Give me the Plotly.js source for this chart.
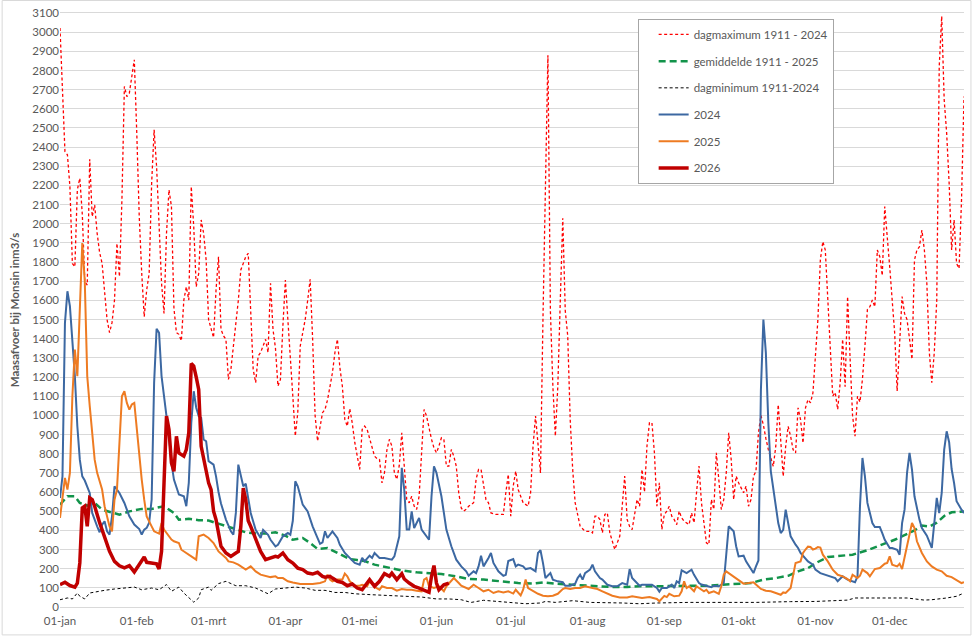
<!DOCTYPE html>
<html><head><meta charset="utf-8">
<script src="https://cdn.plot.ly/plotly-3.0.1.min.js"></script>
<style>html,body{margin:0;padding:0;background:#fff}#chart{width:976px;height:639px}</style>
</head><body><div id="chart"></div>
<script>
// x = day of year (0 = 01-jan, leap-year axis of 366 days)
const monthTickDays = [0,31,60,91,121,152,182,213,244,274,305,335];
const monthTickLabels = ['01-jan','01-feb','01-mrt','01-apr','01-mei','01-jun','01-jul','01-aug','01-sep','01-okt','01-nov','01-dec'];

const dagmaximum = [[0,3022],[1,2734],[2,2377],[3,2360],[4,2194],[5,1793],[6,1776],[7,2177],[8,2238],[9,2050],[10,1700],[11,1680],[12,2337],[13,2037],[14,2098],[15,1950],[16,1850],[17,1793],[18,1637],[19,1500],[20,1432],[21,1484],[22,1600],[23,1898],[24,1724],[25,2124],[26,2717],[27,2664],[28,2682],[29,2769],[30,2856],[31,2473],[32,2037],[33,1741],[34,1515],[35,1654],[36,1741],[37,2211],[38,2490],[39,2299],[40,1950],[41,1689],[42,1532],[43,1950],[44,2177],[45,2090],[46,1560],[47,1432],[48,1423],[49,1389],[50,1602],[51,1671],[52,1602],[53,2194],[54,1985],[55,1671],[56,1741],[57,2020],[58,1950],[59,1811],[60,1500],[61,1449],[62,1406],[63,1654],[64,1828],[65,1450],[66,1415],[67,1397],[68,1188],[69,1240],[70,1362],[71,1449],[72,1600],[73,1759],[74,1800],[75,1828],[76,1846],[77,1500],[78,1240],[79,1171],[80,1310],[81,1328],[82,1362],[83,1397],[84,1328],[85,1689],[86,1449],[87,1350],[88,1153],[89,1188],[90,1467],[91,1706],[92,1500],[93,1275],[94,1101],[95,892],[96,1014],[97,1362],[98,1432],[99,1500],[100,1600],[101,1710],[102,1400],[103,1000],[104,866],[105,944],[106,1014],[107,1031],[108,1080],[109,1150],[110,1223],[111,1328],[112,1397],[113,1250],[114,1153],[115,979],[116,944],[117,1035],[118,960],[119,860],[120,790],[121,718],[122,927],[123,944],[124,927],[125,880],[126,822],[127,787],[128,775],[129,770],[130,648],[131,700],[132,820],[133,875],[134,840],[135,700],[136,666],[137,740],[138,909],[139,718],[140,561],[141,544],[142,578],[143,526],[144,509],[145,578],[146,787],[147,1031],[148,997],[149,927],[150,875],[151,830],[152,805],[153,840],[154,883],[155,875],[156,735],[157,735],[158,822],[159,787],[160,735],[161,596],[162,517],[163,500],[164,510],[165,526],[167,544],[168,666],[169,718],[170,718],[171,648],[172,560],[173,544],[174,491],[176,483],[178,483],[179,483],[180,596],[181,692],[182,474],[183,631],[184,709],[185,613],[186,578],[187,544],[189,526],[190,596],[191,840],[192,997],[193,850],[194,700],[195,1502],[196,2299],[197,2879],[198,1547],[199,1153],[200,892],[201,1153],[202,1602],[203,2029],[204,1547],[205,1415],[206,979],[207,718],[208,544],[210,422],[212,395],[214,395],[215,387],[216,474],[217,474],[218,456],[219,387],[220,483],[221,491],[222,387],[224,300],[225,335],[226,369],[227,526],[228,683],[229,456],[230,420],[231,404],[232,474],[233,561],[234,526],[235,718],[236,600],[237,840],[238,962],[239,962],[240,805],[241,526],[242,648],[243,404],[244,483],[245,500],[246,526],[247,474],[248,456],[249,430],[250,500],[251,465],[252,448],[254,430],[255,491],[256,439],[257,596],[258,735],[259,544],[260,422],[261,335],[262,326],[263,561],[264,509],[265,805],[266,666],[267,509],[268,561],[269,700],[270,909],[271,770],[272,561],[273,683],[274,648],[276,596],[277,631],[278,526],[279,561],[280,683],[281,708],[282,908],[283,1000],[284,950],[285,880],[286,821],[288,734],[289,838],[290,1056],[291,890],[292,682],[293,838],[294,943],[295,890],[296,821],[297,804],[298,1039],[299,978],[300,856],[301,1039],[302,1082],[303,1066],[304,1117],[305,1309],[306,1497],[307,1811],[308,1907],[309,1863],[310,1600],[311,1300],[312,1101],[313,1120],[314,1031],[315,1170],[316,1397],[317,1150],[318,1620],[319,1300],[320,1000],[321,891],[322,1100],[323,1070],[324,1190],[325,1362],[326,1552],[327,1567],[328,1602],[329,1567],[330,1863],[331,1828],[332,1730],[333,2090],[334,1950],[335,1776],[336,1602],[337,1432],[338,1127],[339,1350],[340,1620],[341,1532],[342,1500],[343,1400],[344,1293],[345,1811],[346,1863],[347,1880],[348,1967],[349,1863],[350,1689],[351,1328],[352,1171],[353,1328],[354,1602],[355,2821],[356,3083],[357,2647],[358,2473],[359,2211],[360,1863],[361,2020],[362,1793],[363,1767],[364,2124],[365,2664]];

const gemiddelde = [[0,534],[3,578],[6,578],[8,543],[11,529],[14,543],[17,508],[21,491],[24,482],[28,499],[33,512],[37,512],[42,526],[46,491],[48,456],[52,460],[56,453],[60,451],[63,439],[67,421],[71,404],[75,390],[79,383],[83,383],[87,390],[91,372],[94,351],[98,360],[101,334],[104,303],[108,308],[112,282],[117,250],[120,245],[123,240],[127,221],[133,203],[138,191],[144,181],[149,177],[154,172],[160,160],[165,146],[171,143],[176,137],[181,132],[185,125],[191,122],[195,128],[202,120],[207,116],[212,111],[218,108],[223,104],[229,104],[234,108],[240,108],[248,111],[254,111],[261,111],[268,117],[273,120],[279,125],[284,143],[289,151],[294,163],[298,186],[302,203],[306,235],[310,261],[315,268],[320,273],[326,296],[331,320],[337,351],[341,375],[345,400],[348,425],[351,420],[354,440],[357,475],[360,494],[365,499]];

const dagminimum = [[0,38],[3,47],[5,42],[7,73],[8,56],[10,42],[12,73],[15,82],[18,87],[22,94],[26,99],[30,104],[33,90],[37,99],[40,90],[43,117],[45,82],[48,104],[50,73],[52,47],[54,25],[56,47],[57,90],[60,104],[61,87],[64,122],[67,134],[71,111],[75,111],[79,99],[81,87],[84,69],[87,94],[91,99],[95,104],[99,99],[103,87],[107,87],[111,76],[115,76],[119,69],[126,64],[133,59],[139,56],[146,52],[152,42],[157,42],[162,38],[166,24],[171,35],[176,29],[181,24],[188,17],[194,21],[196,29],[200,24],[207,33],[214,24],[220,24],[227,21],[234,17],[241,21],[254,24],[268,24],[281,24],[295,28],[305,29],[318,36],[321,47],[332,47],[342,47],[349,36],[352,38],[358,47],[362,56],[365,73]];

const y2024 = [[0,569],[1,682],[2,1483],[3,1648],[4,1570],[5,1396],[6,1205],[7,943],[8,769],[9,682],[10,660],[12,595],[13,491],[15,421],[16,390],[17,430],[18,447],[19,395],[20,378],[21,473],[22,630],[24,595],[26,543],[28,473],[30,430],[32,407],[33,378],[34,404],[35,413],[36,440],[37,560],[38,1170],[39,1452],[40,1431],[41,1205],[42,1100],[44,891],[45,752],[46,665],[48,587],[50,578],[51,526],[52,648],[53,961],[54,1126],[55,1040],[56,996],[57,987],[58,874],[59,865],[60,761],[62,743],[63,682],[64,600],[65,540],[67,456],[69,395],[70,377],[71,491],[72,743],[73,682],[74,630],[75,643],[76,560],[77,491],[79,403],[81,360],[82,403],[84,377],[85,351],[87,316],[88,325],[90,369],[92,386],[93,377],[94,450],[95,656],[96,630],[98,534],[100,499],[102,421],[104,360],[105,330],[106,337],[107,395],[108,360],[110,395],[112,360],[113,325],[115,282],[117,255],[119,230],[121,221],[122,256],[123,238],[125,268],[126,256],[127,282],[129,256],[131,256],[134,247],[135,264],[137,369],[138,726],[139,612],[140,404],[141,404],[142,499],[143,412],[145,465],[146,404],[148,369],[149,351],[150,578],[151,734],[152,700],[154,578],[155,491],[156,404],[158,317],[160,247],[162,212],[164,186],[165,163],[167,186],[168,177],[169,212],[170,268],[171,212],[173,256],[174,282],[175,230],[177,186],[179,163],[180,168],[181,240],[183,250],[184,212],[185,221],[187,212],[188,198],[190,203],[192,186],[193,282],[194,296],[195,230],[196,151],[198,177],[199,143],[201,134],[203,129],[204,111],[206,111],[208,122],[209,151],[210,169],[211,143],[212,177],[214,195],[215,221],[216,186],[218,151],[219,143],[221,116],[223,108],[225,108],[226,116],[227,125],[229,116],[230,198],[231,151],[233,125],[234,111],[235,116],[237,116],[239,116],[241,99],[242,80],[243,99],[245,99],[246,108],[247,117],[248,99],[249,134],[250,125],[251,191],[253,177],[254,186],[255,195],[256,168],[258,125],[259,117],[261,111],[263,103],[264,111],[266,108],[268,125],[269,264],[270,421],[272,395],[273,317],[274,264],[276,268],[277,238],[279,195],[280,177],[281,212],[282,243],[283,1134],[284,1500],[285,1326],[286,960],[287,708],[288,612],[289,508],[290,438],[291,386],[292,403],[293,508],[294,438],[295,369],[297,325],[298,308],[299,282],[301,256],[302,238],[304,221],[305,195],[307,177],[309,169],[311,157],[313,151],[314,134],[316,160],[318,143],[320,134],[321,129],[322,160],[323,526],[324,778],[325,682],[326,543],[328,438],[329,417],[331,417],[332,386],[333,351],[335,308],[336,308],[338,299],[339,273],[340,438],[341,508],[342,700],[343,804],[344,717],[345,578],[347,456],[348,412],[350,372],[351,334],[352,308],[353,438],[354,569],[355,490],[356,595],[357,821],[358,917],[359,860],[360,720],[361,647],[362,552],[364,508],[365,490]];

const y2025 = [[0,465],[1,587],[2,674],[3,613],[4,700],[5,1100],[6,1344],[7,1205],[8,1518],[9,1900],[10,1700],[11,1205],[12,1050],[13,900],[14,769],[15,700],[16,650],[17,613],[18,526],[19,470],[20,420],[21,395],[22,560],[23,613],[24,891],[25,1100],[26,1126],[27,1065],[28,1030],[29,1057],[30,1065],[31,926],[32,769],[33,665],[34,560],[35,473],[37,421],[38,395],[40,383],[41,439],[42,404],[44,372],[45,352],[46,343],[48,334],[49,299],[51,282],[53,268],[55,247],[56,369],[58,378],[60,360],[62,334],[64,290],[67,256],[68,238],[70,233],[72,221],[74,203],[75,195],[77,212],[79,186],[81,169],[83,163],[85,156],[87,160],[88,151],[90,151],[92,134],[94,128],[97,120],[100,120],[102,120],[105,125],[107,134],[108,169],[109,143],[110,134],[112,143],[114,143],[115,174],[116,160],[117,134],[119,111],[121,111],[122,116],[124,108],[125,134],[127,104],[129,90],[130,108],[132,99],[134,99],[136,85],[138,94],[140,90],[142,90],[144,85],[146,82],[147,143],[148,151],[149,108],[151,99],[153,108],[155,82],[156,108],[158,134],[159,151],[161,125],[162,111],[165,94],[167,116],[169,99],[171,82],[173,90],[175,73],[177,82],[179,76],[181,82],[183,70],[184,90],[185,73],[186,60],[187,90],[188,143],[189,99],[191,82],[193,69],[195,59],[197,56],[199,59],[201,69],[203,94],[204,99],[206,94],[208,99],[210,99],[212,108],[215,99],[217,94],[219,82],[221,69],[223,59],[226,50],[229,50],[231,56],[233,50],[235,47],[238,52],[241,42],[242,30],[244,58],[245,52],[246,69],[248,56],[250,59],[251,82],[252,134],[253,99],[254,108],[256,82],[257,108],[258,99],[260,82],[261,90],[262,73],[264,82],[266,69],[267,108],[268,169],[269,186],[271,169],[272,156],[274,143],[276,122],[278,125],[280,129],[281,117],[283,94],[285,85],[287,82],[289,73],[291,64],[292,76],[293,73],[295,99],[296,160],[297,230],[299,238],[300,282],[301,300],[302,315],[303,313],[304,300],[305,305],[306,313],[307,310],[308,273],[310,238],[312,195],[314,168],[316,160],[318,146],[319,134],[320,168],[322,151],[323,163],[324,195],[326,177],[327,160],[329,198],[331,203],[333,226],[334,230],[335,264],[336,221],[338,212],[339,226],[340,198],[341,256],[343,369],[344,438],[345,412],[346,343],[348,282],[350,238],[352,212],[354,195],[356,186],[358,163],[360,156],[362,139],[364,125],[365,129]];

const y2026 = [[0,117],[1,125],[2,129],[4,112],[5,108],[6,104],[7,125],[8,230],[9,517],[10,526],[11,421],[12,569],[13,560],[14,526],[16,440],[18,360],[20,291],[22,238],[24,215],[26,204],[28,216],[30,183],[32,221],[34,261],[35,233],[37,228],[39,225],[40,198],[41,291],[42,647],[43,996],[44,926],[45,752],[46,708],[47,891],[48,804],[50,787],[51,822],[52,909],[53,1271],[54,1257],[55,1200],[56,1135],[57,839],[58,769],[59,700],[60,648],[61,612],[62,500],[63,456],[65,317],[67,282],[69,264],[71,282],[72,290],[73,420],[74,621],[75,560],[76,450],[77,421],[79,351],[81,290],[83,247],[85,255],[87,264],[88,261],[90,282],[92,247],[94,229],[96,203],[98,195],[100,177],[102,172],[104,181],[106,160],[107,156],[109,160],[110,151],[112,134],[114,128],[116,111],[118,120],[120,99],[122,90],[124,122],[125,143],[127,108],[129,134],[131,174],[133,160],[134,177],[136,143],[138,174],[139,146],[141,125],[143,108],[145,99],[147,90],[149,77],[150,160],[151,216],[152,125],[153,90],[155,116],[157,125]];

const seriesNames = ['dagmaximum 1911 - 2024','gemiddelde 1911 - 2025','dagminimum 1911-2024','2024','2025','2026'];

const xs = a => a.map(p => p[0]);
const ys = a => a.map(p => p[1]);

const styles = [
  {color:'#FF0000', width:1.3, dash:'3px,2.5px'},
  {color:'#12934A', width:2.5, dash:'7px,4px'},
  {color:'#000000', width:1, dash:'3px,2.5px'},
  {color:'#3C68A2', width:2},
  {color:'#EE7B22', width:2},
  {color:'#C00000', width:3.5}
];
const data = [dagmaximum, gemiddelde, dagminimum, y2024, y2025, y2026].map((s, i) => ({
  type:'scatter', mode:'lines', name:seriesNames[i], legendgroup:'g'+i,
  x:xs(s), y:ys(s), line:styles[i], hoverinfo:'x+y'
}));

const layout = {
  width:976, height:639,
  margin:{l:60, r:12, t:13, b:32},
  paper_bgcolor:'#ffffff', plot_bgcolor:'#ffffff',
  font:{family:'Lato, "Open Sans", sans-serif', size:11.5, color:'#595959'},
  xaxis:{range:[0,365], tickmode:'array', tickvals:monthTickDays, ticktext:monthTickLabels,
         showgrid:false, zeroline:false, showline:true, linecolor:'#D9D9D9', linewidth:1, mirror:true,
         ticks:'', ticklabelstandoff:3, tickfont:{size:11.5, color:'#595959'}},
  yaxis:{range:[0,3100], tick0:0, dtick:100, gridcolor:'#D9D9D9', gridwidth:1, zeroline:false,
         showline:false, ticks:'', tickfont:{size:11.5, color:'#595959'},
         title:{text:'Maasafvoer bij Monsin inm3/s', font:{size:11.5, color:'#595959', weight:'bold'}, standoff:10}},
  legend:{x:0.639, y:0.990, xanchor:'left', yanchor:'top', bordercolor:'#A6A6A6', borderwidth:1,
          bgcolor:'#ffffff', tracegroupgap:7.7, indentation:15, entrywidth:150, entrywidthmode:'pixels',
          font:{size:11.5, color:'#595959'}},
  showlegend:true,
  shapes:[{type:'rect', xref:'paper', yref:'paper', x0:-0.064, x1:1.0077, y0:-0.047, y1:1.021,
           line:{color:'#D9D9D9', width:1}, fillcolor:'rgba(0,0,0,0)', layer:'below'}]
};

Plotly.newPlot('chart', data, layout, {displayModeBar:false, staticPlot:true});
</script>
</body></html>
